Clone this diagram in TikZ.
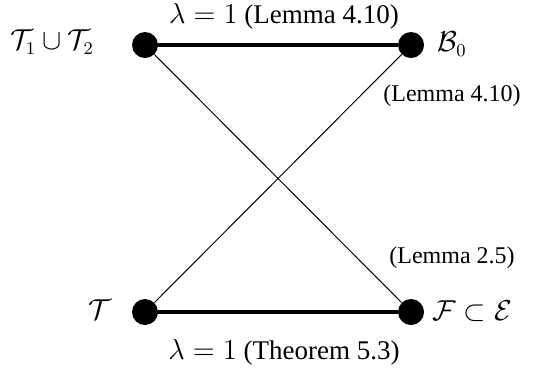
\documentclass[tikz,border=0pt]{standalone}
\usepackage{amsmath,amssymb}
\usepackage{fontspec}
\setmainfont{Liberation Serif}
\usepackage{tikz}
\usepackage{xcolor}

\begin{document}
\begin{tikzpicture}[x=0.5pt,y=-0.5pt,every node/.style={font=\fontsize{12}{14}\selectfont},
  vtx/.style={circle,fill=black,inner sep=0pt,minimum size=13pt},
  vname/.style={font=\fontsize{13.5}{15}\selectfont}]
\useasboundingbox (0,0) rectangle (533,371);
% vertices
\node[vtx] (tu) at (145,45) {};
\node[vtx] (bz) at (411,45) {};
\node[vtx] (tt) at (145,312) {};
\node[vtx] (fe) at (411,312) {};
% edges
\draw[line width=2pt] (tu) -- (bz);
\draw[line width=2pt] (tt) -- (fe);
\draw[line width=0.5pt] (tu) -- (fe);
\draw[line width=0.5pt] (bz) -- (tt);
% vertex names
\node[vname] (tuname) at (52,42) {$\mathcal{T}_1\cup\mathcal{T}_2$};
\node[vname] (bzname) at (452,44) {$\mathcal{B}_0$};
\node[vname] (ttname) at (100,310) {$\mathcal{T}$};
\node[vname] (fename) at (472,311) {$\mathcal{F}\subset\mathcal{E}$};
% edge labels
\node[vname] (toplab) at (284,16) {$\lambda=1$ (Lemma 4.10)};
\node[vname] (botlab) at (284,352) {$\lambda=1$ (Theorem 5.3)};
\node (diaglab) at (452,96) {(Lemma 4.10)};
\node (antilab) at (452,258) {(Lemma 2.5)};
\end{tikzpicture}
\end{document}
